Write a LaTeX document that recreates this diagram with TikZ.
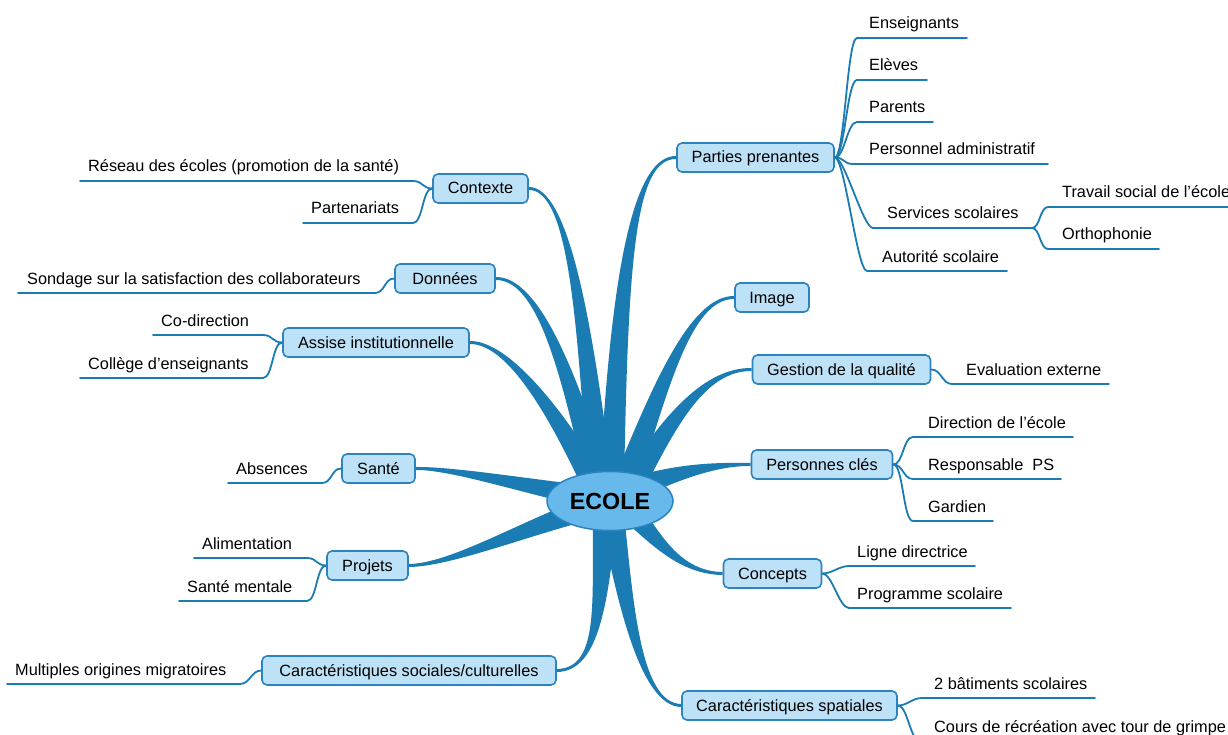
\documentclass[tikz,border=0pt]{standalone}
\usepackage{fontspec}
\setmainfont{Liberation Sans}
\usetikzlibrary{shapes.geometric,calc,backgrounds}
\definecolor{brc}{HTML}{1B7BB3}
\definecolor{bord}{HTML}{2B84C0}
\definecolor{boxf}{HTML}{BDE2F8}
\definecolor{ellf}{HTML}{67B9EB}
\newcommand\leafnode[6]{%
  \coordinate (#1-a) at (#2,#4);
  \coordinate (#1-b) at (#3,#4);
  \node[leaf] (#1) at (#5,#4-9) {#6};}
% start offset, base half vector, c1, c2, end anchor, end half vector
\newcommand\brn[6]{%
  \fill[brc] ($(ecole.center)+#1+1.1*#2$) .. controls ($#3+0.75*#2$) and ($#4+#6$) .. ($(#5)+#6$)
   -- ($(#5)-#6$) .. controls ($#4-#6$) and ($#3-0.75*#2$) .. ($(ecole.center)+#1-1.1*#2$) -- cycle;}
\begin{document}
\begin{tikzpicture}[x=1pt,y=-1pt,
  mbox/.style={draw=bord, fill=boxf, rounded corners=5pt, line width=1.6pt,
    minimum height=29pt, inner sep=0pt, text height=12pt, text depth=1pt,
    font=\fontsize{16.3}{19}\selectfont},
  leaf/.style={anchor=base west, inner sep=0pt, font=\fontsize{16.3}{19}\selectfont},
  sub/.style={draw=brc, line width=1.8pt, line join=round, line cap=round}]
\useasboundingbox (0,0) rectangle (1228,735);

% centre
\node[ellipse, draw=bord, fill=ellf, line width=1.5pt, minimum width=126pt, minimum height=59pt,
  inner sep=0pt, font=\fontsize{23.3}{27}\selectfont\bfseries] (ecole) at (610,501) {ECOLE};

% main nodes
\node[mbox, minimum width=157pt] (pp) at (755.5,157.5) {Parties prenantes};
\node[mbox, minimum width=74pt] (img) at (772,297.5) {Image};
\node[mbox, minimum width=178pt] (gq) at (841.5,369.5) {Gestion de la qualité};
\node[mbox, minimum width=141pt] (pc) at (822,464.5) {Personnes clés};
\node[mbox, minimum width=98pt] (con) at (772.5,573.5) {Concepts};
\node[mbox, minimum width=215pt] (cs) at (789.5,705.5) {Caractéristiques spatiales};
\node[mbox, minimum width=294pt] (csc) at (409,670.5) {Caractéristiques sociales/culturelles};
\node[mbox, minimum width=81pt] (proj) at (367.5,565.5) {Projets};
\node[mbox, minimum width=73pt] (sante) at (378.5,468.5) {Santé};
\node[mbox, minimum width=186pt] (ass) at (376,342.5) {Assise institutionnelle};
\node[mbox, minimum width=100pt] (don) at (445,278.5) {Données};
\node[mbox, minimum width=95pt] (ctx) at (480.5,188.5) {Contexte};

% tapered main branches
\begin{pgfonlayer}{background}
\fill[white] (0,0) rectangle (1228,735);
\brn{(2,-21)}{(11,0)}{(620,260)}{(635,157)}{pp.west}{(0,1.5)}
\brn{(-10,-21)}{(11,0)}{(585,330)}{(570,188)}{ctx.east}{(0,-1.5)}
\brn{(-12,-19)}{(10,-5)}{(570,380)}{(540,278)}{don.east}{(0,-1.5)}
\brn{(-15,-14)}{(8,-8)}{(560,420)}{(510,342)}{ass.east}{(0,-1.5)}
\brn{(16,-19)}{(10,5)}{(660,390)}{(690,297)}{img.west}{(0,1.5)}
\brn{(22,-14)}{(8,8)}{(670,420)}{(705,369)}{gq.west}{(0,1.5)}
\brn{(20,-11)}{(3,10)}{(680,470)}{(720,464)}{pc.west}{(0,1.5)}
\brn{(15,4)}{(-8,8)}{(650,530)}{(675,573)}{con.west}{(0,1.5)}
\brn{(2,14)}{(-11,0)}{(625,600)}{(640,705)}{cs.west}{(0,1.5)}
\brn{(-5,14)}{(-11,0)}{(600,600)}{(600,670)}{csc.east}{(0,-1.5)}
\brn{(-20,-4)}{(0,-10)}{(520,485)}{(450,468)}{sante.east}{(0,-1.5)}
\brn{(-20,7)}{(-3,-10)}{(520,530)}{(450,565)}{proj.east}{(0,-1.5)}
\end{pgfonlayer}

% leaves, right
\leafnode{ens}{857}{967}{38}{869}{Enseignants}
\leafnode{ele}{857}{927}{80}{869}{Elèves}
\leafnode{par}{857}{933}{122}{869}{Parents}
\leafnode{pers}{853}{1048}{164}{869}{Personnel administratif}
\leafnode{ser}{873}{1032}{228}{887}{Services scolaires}
\leafnode{aut}{867}{1007}{271}{882}{Autorité scolaire}
\leafnode{tra}{1048}{1240}{207}{1062}{Travail social de l’école}
\leafnode{ort}{1048}{1159}{249}{1062}{Orthophonie}
\leafnode{eva}{952}{1109}{384}{966}{Evaluation externe}
\leafnode{dir}{913}{1073}{437}{928}{Direction de l’école}
\leafnode{res}{913}{1061}{479}{928}{Responsable\ \ PS}
\leafnode{gar}{913}{993}{521}{928}{Gardien}
\leafnode{lig}{849}{975}{566}{857}{Ligne directrice}
\leafnode{pro}{849}{1011}{608}{857}{Programme scolaire}
\leafnode{bat}{922}{1095}{698}{934}{2 bâtiments scolaires}
\leafnode{cou}{920}{1240}{741}{934}{Cours de récréation avec tour de grimpe}
% leaves, left
\leafnode{rez}{80}{413}{181}{88}{Réseau des écoles (promotion de la santé)}
\leafnode{pat}{303}{413}{223}{311}{Partenariats}
\leafnode{son}{18}{375}{293}{27}{Sondage sur la satisfaction des collaborateurs}
\leafnode{cod}{153}{263}{335}{161}{Co-direction}
\leafnode{col}{80}{263}{378}{88}{Collège d’enseignants}
\leafnode{abs}{228}{322}{483}{236}{Absences}
\leafnode{ali}{194}{307}{558}{202}{Alimentation}
\leafnode{smt}{179}{307}{601}{187}{Santé mentale}
\leafnode{mul}{7}{240}{684}{15}{Multiples origines migratoires}

% sub connectors, right side
\foreach \l in {ens,ele,par,pers,ser,aut}
  \draw[sub] (pp.east) .. controls +(10,0) and +(-10,0) .. (\l-a) -- (\l-b);
\foreach \l in {tra,ort}
  \draw[sub] (ser-b) .. controls +(8,0) and +(-8,0) .. (\l-a) -- (\l-b);
\draw[sub] (gq.east) .. controls +(10,0) and +(-10,0) .. (eva-a) -- (eva-b);
\foreach \l in {dir,res,gar}
  \draw[sub] (pc.east) .. controls +(10,0) and +(-10,0) .. (\l-a) -- (\l-b);
\foreach \l in {lig,pro}
  \draw[sub] (con.east) .. controls +(10,0) and +(-10,0) .. (\l-a) -- (\l-b);
\foreach \l in {bat,cou}
  \draw[sub] (cs.east) .. controls +(10,0) and +(-10,0) .. (\l-a) -- (\l-b);
% sub connectors, left side
\foreach \l in {rez,pat}
  \draw[sub] (ctx.west) .. controls +(-10,0) and +(10,0) .. (\l-b) -- (\l-a);
\draw[sub] (don.west) .. controls +(-10,0) and +(10,0) .. (son-b) -- (son-a);
\foreach \l in {cod,col}
  \draw[sub] (ass.west) .. controls +(-10,0) and +(10,0) .. (\l-b) -- (\l-a);
\draw[sub] (sante.west) .. controls +(-10,0) and +(10,0) .. (abs-b) -- (abs-a);
\foreach \l in {ali,smt}
  \draw[sub] (proj.west) .. controls +(-10,0) and +(10,0) .. (\l-b) -- (\l-a);
\draw[sub] (csc.west) .. controls +(-10,0) and +(10,0) .. (mul-b) -- (mul-a);
\end{tikzpicture}
\end{document}
